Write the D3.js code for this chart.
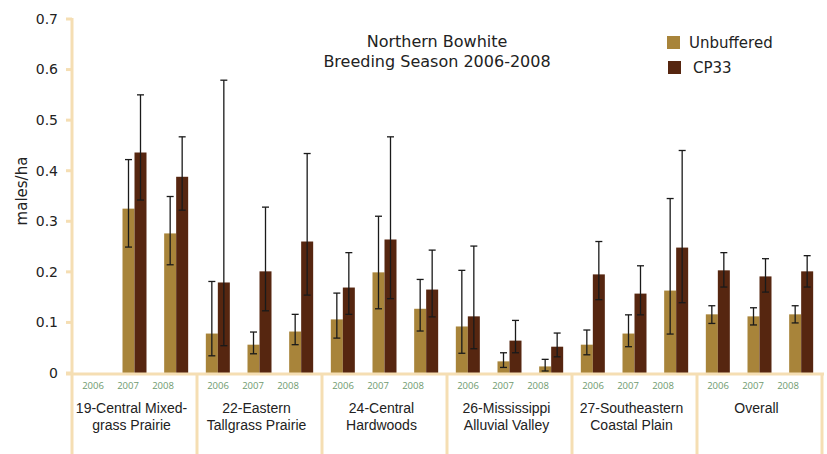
<!DOCTYPE html>
<html>
<head>
<meta charset="utf-8">
<script src="https://cdn.jsdelivr.net/npm/d3@7"></script>
<style>
  body { margin: 0; background: #fff; }
  svg { display: block; }
  .title, .legendText, .tickText, .yLabel { font-family: "DejaVu Sans", sans-serif; fill: #222; }
  .catLabel { font-family: "Liberation Sans", sans-serif; fill: #222; }
  .yearLabel { font-family: "Open Sans", sans-serif; fill: #6f9a6f; }
</style>
</head>
<body>
<div class="chart"></div>
<script>
// --- Data ---
const regions = [
  ["19-Central Mixed-", "grass Prairie"],
  ["22-Eastern", "Tallgrass Prairie"],
  ["24-Central", "Hardwoods"],
  ["26-Mississippi", "Alluvial Valley"],
  ["27-Southeastern", "Coastal Plain"],
  ["Overall"]
];
const years = ["2006", "2007", "2008"];
const series = ["Unbuffered", "CP33"];

// mean, lower, upper  (null = no data)
const unbuffered = [
  [null, [0.325, 0.249, 0.422], [0.276, 0.214, 0.349]],
  [[0.078, 0.034, 0.181], [0.056, 0.038, 0.081], [0.082, 0.056, 0.116]],
  [[0.106, 0.069, 0.158], [0.199, 0.127, 0.310], [0.127, 0.083, 0.185]],
  [[0.092, 0.039, 0.203], [0.023, 0.011, 0.040], [0.013, 0.004, 0.027]],
  [[0.056, 0.036, 0.085], [0.078, 0.052, 0.115], [0.163, 0.077, 0.345]],
  [[0.116, 0.098, 0.133], [0.112, 0.095, 0.129], [0.116, 0.099, 0.133]]
];
const cp33 = [
  [null, [0.436, 0.342, 0.550], [0.388, 0.322, 0.467]],
  [[0.179, 0.054, 0.579], [0.201, 0.123, 0.328], [0.260, 0.154, 0.434]],
  [[0.169, 0.116, 0.238], [0.264, 0.147, 0.467], [0.165, 0.111, 0.243]],
  [[0.112, 0.048, 0.251], [0.064, 0.040, 0.104], [0.052, 0.032, 0.079]],
  [[0.195, 0.145, 0.260], [0.157, 0.115, 0.212], [0.248, 0.139, 0.440]],
  [[0.203, 0.170, 0.238], [0.191, 0.160, 0.226], [0.201, 0.170, 0.232]]
];
const yTicks = [0, 0.1, 0.2, 0.3, 0.4, 0.5, 0.6, 0.7];

const colors = { "Unbuffered": "#a8843a", "CP33": "#562610" };
const axisColor = "#f5deb3";

// --- Layout ---
const width = 827, height = 454;
const margin = { top: 19, left: 72, right: 5, bottom: 80 };
const plotRight = 822;

const svg = d3.select(".chart").append("svg")
  .attr("width", width)
  .attr("height", height);

const y = d3.scaleLinear().domain([0, 0.7]).range([373, 19]);
const xGroup = d3.scaleBand().domain(d3.range(regions.length)).range([margin.left, plotRight]);
const xYear = d3.scaleBand().domain(years).range([0, xGroup.bandwidth()])
  .paddingInner(0.424).paddingOuter(0.212);
const xSeries = d3.scaleBand().domain(series).range([0, xYear.bandwidth()]);
const xYearLabel = d3.scalePoint().domain(years).range([21, 91]);

// flatten bar data
const bars = [];
regions.forEach((r, gi) => {
  years.forEach((yr, yi) => {
    [unbuffered, cp33].forEach((arr, si) => {
      const v = arr[gi][yi];
      if (v) bars.push({ g: gi, year: yr, s: series[si], mean: v[0], lo: v[1], hi: v[2] });
    });
  });
});

const barX = d => xGroup(d.g) + xYear(d.year) + xSeries(d.s);

// Bars
svg.append("g").selectAll("rect")
  .data(bars)
  .join("rect")
  .attr("x", barX)
  .attr("y", d => y(d.mean))
  .attr("width", xSeries.bandwidth())
  .attr("height", d => y(0) - y(d.mean))
  .attr("fill", d => colors[d.s]);

// Error bars
const err = svg.append("g").attr("stroke", "#1a1a1a").attr("stroke-width", 1.3);
bars.forEach(d => {
  const cx = barX(d) + xSeries.bandwidth() / 2;
  err.append("line").attr("x1", cx).attr("x2", cx).attr("y1", y(d.hi)).attr("y2", y(d.lo));
  err.append("line").attr("x1", cx - 3.5).attr("x2", cx + 3.5).attr("y1", y(d.hi)).attr("y2", y(d.hi));
  err.append("line").attr("x1", cx - 3.5).attr("x2", cx + 3.5).attr("y1", y(d.lo)).attr("y2", y(d.lo));
});

// Axes
const axisG = svg.append("g").attr("stroke", axisColor).attr("stroke-width", 3);
axisG.append("line")
  .attr("x1", margin.left).attr("x2", margin.left)
  .attr("y1", y(0.7) - 1).attr("y2", height);
axisG.append("line")
  .attr("x1", margin.left - 6).attr("x2", plotRight + 2)
  .attr("y1", y(0) + 1).attr("y2", y(0) + 1);
axisG.selectAll(".ytick")
  .data(yTicks)
  .join("line")
  .attr("x1", margin.left - 6).attr("x2", margin.left)
  .attr("y1", d => y(d)).attr("y2", d => y(d));
axisG.selectAll(".sep")
  .data(d3.range(1, regions.length + 1))
  .join("line")
  .attr("x1", d => margin.left + d * xGroup.step())
  .attr("x2", d => margin.left + d * xGroup.step())
  .attr("y1", y(0)).attr("y2", height);

// Y tick labels
svg.append("g").selectAll("text")
  .data(yTicks)
  .join("text")
  .attr("class", "tickText")
  .attr("x", 58)
  .attr("y", d => y(d))
  .attr("dy", "0.35em")
  .attr("text-anchor", "end")
  .style("font-size", "14px")
  .text(d => d === 0 ? "0" : d3.format(".1f")(d));

// Y label
svg.append("text")
  .attr("class", "yLabel")
  .attr("transform", "translate(27,191) rotate(-90)")
  .attr("text-anchor", "middle")
  .style("font-size", "15px")
  .text("males/ha");

// Year labels
regions.forEach((r, gi) => {
  svg.append("g").selectAll("text")
    .data(years)
    .join("text")
    .attr("class", "yearLabel")
    .attr("x", d => xGroup(gi) + xYearLabel(d))
    .attr("y", 389)
    .attr("text-anchor", "middle")
    .style("font-size", "9.5px")
    .text(d => d);
});

// Category labels (one text per line)
regions.forEach((r, gi) => {
  svg.append("g").selectAll("text")
    .data(r)
    .join("text")
    .attr("class", "catLabel")
    .attr("text-anchor", "middle")
    .attr("x", xGroup(gi) + xGroup.bandwidth() / 2 - 3)
    .attr("y", (d, li) => 413 + li * 17)
    .style("font-size", "14px")
    .text(d => d);
});

// Title
const title = svg.append("text")
  .attr("class", "title")
  .attr("text-anchor", "middle")
  .style("font-size", "16px");
title.append("tspan").attr("x", 437).attr("y", 47).text("Northern Bowhite");
title.append("tspan").attr("x", 437).attr("y", 67).text("Breeding Season 2006-2008");

// Legend
const legend = svg.append("g");
series.forEach((s, i) => {
  legend.append("rect")
    .attr("x", 667 + i).attr("y", 36 + i * 25)
    .attr("width", 13).attr("height", 13)
    .attr("fill", colors[s]);
  legend.append("text")
    .attr("class", "legendText")
    .attr("x", 689 + i * 4).attr("y", 48 + i * 25)
    .style("font-size", "15px")
    .text(s);
});
</script>
</body>
</html>
